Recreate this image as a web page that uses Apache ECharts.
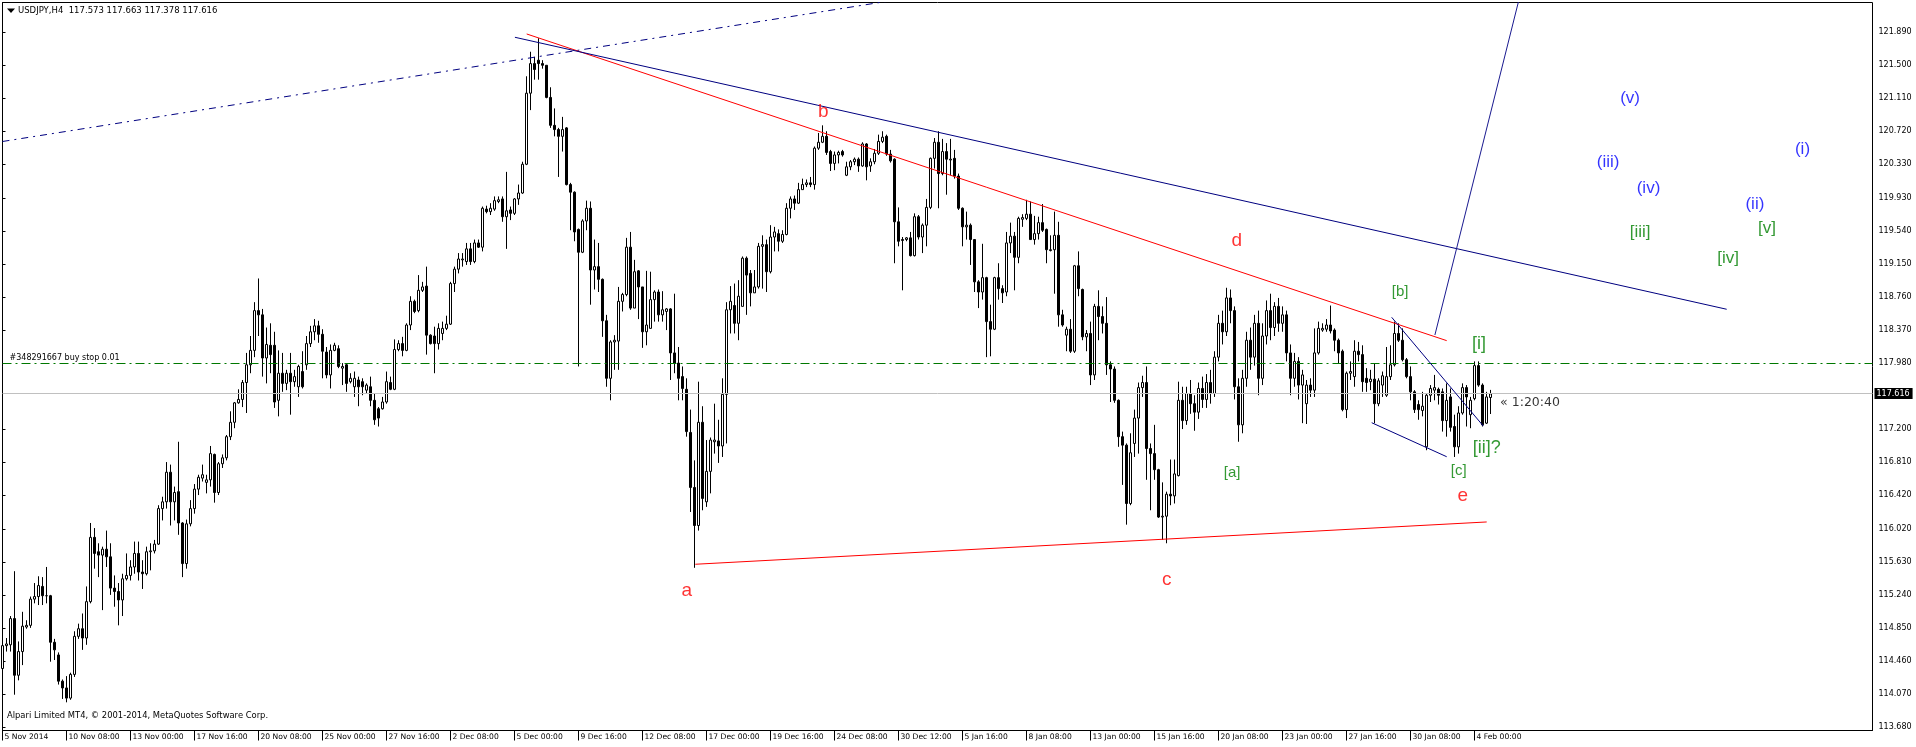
<!DOCTYPE html>
<html><head><meta charset="utf-8">
<script src="https://cdn.jsdelivr.net/npm/echarts@6/dist/echarts.min.js"></script>
<style>html,body{margin:0;padding:0;background:#fff;}#chart{width:1916px;height:747px;}</style>
</head><body><div id="chart"></div>
<script>
const symbolTitle = 'USDJPY,H4  117.573 117.663 117.378 117.616';
const copyrightText = 'Alpari Limited MT4, \u00a9 2001-2014, MetaQuotes Software Corp.';

const openPrices = [
114.37,114.64,114.65,114.96,114.29,114.57,114.86,114.88,115.19,115.22,
115.34,115.23,115.23,114.68,114.53,114.22,114.14,114.02,114.30,114.75,
114.84,114.73,115.16,115.92,115.75,115.71,115.78,115.69,115.32,115.28,
115.18,115.43,115.47,115.57,115.73,115.51,115.49,115.75,115.76,115.84,
116.26,116.34,116.69,116.34,116.46,116.09,115.61,116.08,116.26,116.49,
116.62,116.57,116.60,116.90,116.45,116.79,116.86,117.11,117.28,117.51,
117.55,117.75,117.96,118.13,118.60,118.55,118.04,118.19,118.19,117.54,
117.86,117.74,117.86,117.76,117.70,117.88,117.96,118.21,118.35,118.42,
118.32,118.11,117.84,118.13,118.15,117.92,117.96,117.76,117.70,117.78,
117.76,117.66,117.70,117.54,117.44,117.44,117.52,117.75,117.67,118.14,
118.21,118.13,118.43,118.71,118.60,118.84,118.89,118.31,118.30,118.21,
118.33,118.39,118.44,118.92,119.09,119.20,119.18,119.33,119.18,119.40,
119.35,119.80,119.77,119.80,119.89,119.92,119.71,119.79,119.75,119.92,
119.99,120.33,121.17,121.52,121.56,121.52,121.50,121.12,120.79,120.74,
120.66,120.76,120.09,120.00,119.56,119.29,119.66,119.81,119.08,119.12,
118.97,118.48,117.80,118.23,118.24,118.71,118.79,119.35,118.63,119.07,
118.88,118.35,118.39,118.73,118.82,118.55,118.59,118.62,118.10,117.98,
117.82,117.67,117.16,116.51,116.06,117.28,116.34,116.70,117.05,117.06,
117.00,117.61,118.61,118.66,118.45,118.65,119.22,119.04,118.81,118.88,
119.36,119.38,119.06,119.47,119.51,119.42,119.50,119.81,119.92,119.87,
120.03,120.09,120.11,120.09,120.52,120.59,120.66,120.48,120.34,120.44,
120.48,120.20,120.30,120.36,120.39,120.31,120.57,120.31,120.36,120.46,
120.60,120.66,120.45,120.39,119.65,119.44,119.44,119.46,119.25,119.71,
119.47,119.61,119.82,120.40,120.59,120.22,120.48,120.38,120.40,120.19,
119.81,119.59,119.61,119.44,118.94,118.82,118.99,118.47,118.38,118.99,
118.86,118.82,119.40,119.48,119.23,119.68,119.69,119.74,119.44,119.51,
119.64,119.56,119.31,119.32,119.49,118.55,118.31,118.38,118.12,119.13,
118.85,118.29,118.33,117.84,118.65,118.53,118.45,117.96,117.91,117.54,
117.11,117.01,116.32,117.03,117.33,117.69,117.75,116.97,116.91,116.72,
116.16,116.17,116.43,116.41,116.65,117.54,117.30,117.62,117.50,117.40,
117.68,117.55,117.75,117.62,118.05,118.45,118.35,118.75,118.60,117.70,
117.25,117.80,118.25,118.05,118.45,117.80,118.30,118.60,118.40,118.65,
118.45,118.55,118.10,117.80,118.00,117.72,117.50,117.72,117.66,118.10,
118.37,118.38,118.43,118.37,118.25,118.12,117.43,117.86,117.82,118.12,
118.08,117.80,117.76,117.79,117.50,117.72,117.60,117.82,117.96,118.33,
118.25,118.02,117.82,117.64,117.49,117.42,116.99,117.60,117.66,117.67,
117.64,117.30,117.58,117.23,116.99,117.39,117.69,117.37,117.56,117.95,
117.72,117.27,117.573
];
const closePrices = [
114.64,114.66,114.96,114.29,114.57,114.87,114.88,115.19,115.22,115.35,
115.23,115.23,114.68,114.59,114.22,114.14,114.02,114.30,114.75,114.84,
114.73,115.16,115.92,115.73,115.71,115.78,115.69,115.32,115.28,115.18,
115.43,115.47,115.57,115.73,115.51,115.49,115.75,115.76,115.84,116.26,
116.34,116.69,116.34,116.45,116.09,115.61,116.08,116.26,116.49,116.63,
116.66,116.60,116.91,116.45,116.79,116.86,117.11,117.28,117.51,117.55,
117.75,117.96,118.13,118.60,118.55,118.04,118.20,118.08,117.52,117.86,
117.74,117.86,117.76,117.82,117.94,117.70,118.21,118.35,118.42,118.32,
118.12,117.84,118.13,118.19,117.94,117.94,117.74,117.80,117.80,117.70,
117.70,117.72,117.54,117.31,117.33,117.52,117.76,117.67,118.14,118.21,
118.13,118.43,118.71,118.59,118.84,118.88,118.31,118.21,118.21,118.39,
118.39,118.44,118.92,119.09,119.21,119.21,119.33,119.18,119.40,119.35,
119.81,119.77,119.81,119.90,119.91,119.71,119.78,119.75,119.92,119.99,
120.33,121.17,121.52,121.45,121.52,121.50,121.12,120.79,120.74,120.66,
120.74,120.09,120.00,119.53,119.29,119.66,119.81,119.08,119.12,118.97,
118.48,117.80,118.23,118.25,118.71,118.79,119.35,118.63,119.06,118.88,
118.35,118.43,118.73,118.82,118.55,118.61,118.62,118.10,117.98,117.80,
117.68,117.17,116.51,116.06,117.28,116.38,116.70,117.07,117.07,117.00,
117.61,118.61,118.71,118.45,118.77,119.22,119.02,118.81,118.88,119.36,
119.38,119.06,119.47,119.53,119.42,119.50,119.81,119.92,119.87,120.03,
120.09,120.11,120.09,120.52,120.59,120.66,120.47,120.34,120.44,120.47,
120.44,120.30,120.36,120.39,120.31,120.57,120.30,120.36,120.46,120.60,
120.65,120.45,120.37,119.65,119.42,119.43,119.46,119.25,119.71,119.47,
119.61,119.82,120.40,120.59,120.22,120.48,120.39,120.39,120.19,119.81,
119.59,119.61,119.44,118.94,118.82,118.99,118.47,118.38,118.99,118.86,
118.81,119.40,119.48,119.23,119.69,119.70,119.74,119.44,119.51,119.64,
119.55,119.32,119.32,119.49,118.55,118.43,118.38,118.12,119.13,118.86,
118.29,118.33,117.84,118.65,118.53,118.45,117.96,117.91,117.54,117.11,
117.01,116.32,116.92,117.33,117.69,117.75,116.97,116.91,116.72,116.16,
116.17,116.43,116.41,116.67,117.54,117.30,117.62,117.50,117.40,117.68,
117.55,117.75,117.62,118.05,118.45,118.35,118.75,118.60,117.70,117.25,
117.80,118.25,118.05,118.45,117.80,118.30,118.60,118.40,118.65,118.45,
118.55,118.10,117.80,118.00,117.72,117.84,117.72,117.66,118.10,118.39,
118.39,118.43,118.36,118.25,118.10,117.43,117.86,117.88,118.12,118.08,
117.76,117.75,117.79,117.50,117.77,117.83,117.82,117.96,118.33,118.25,
118.02,117.82,117.64,117.43,117.43,117.47,117.60,117.68,117.69,117.60,
117.30,117.54,117.22,116.99,117.39,117.69,117.58,117.54,117.95,117.72,
117.25,117.58,117.616
];
const lowPrices = [
114.33,114.57,114.57,114.06,114.23,114.41,114.84,114.85,115.14,115.12,
115.12,115.14,114.45,114.47,114.18,114.01,113.97,114.00,114.27,114.72,
114.59,114.65,115.14,115.55,115.45,115.06,115.57,115.24,115.10,114.88,
114.99,115.41,115.41,115.49,115.41,115.31,115.47,115.53,115.73,115.83,
116.12,116.26,116.06,116.12,115.95,115.45,115.55,116.05,116.20,116.42,
116.58,116.44,116.52,116.33,116.42,116.74,116.83,117.07,117.21,117.50,
117.46,117.39,117.86,118.05,118.30,117.82,117.74,117.86,117.45,117.35,
117.64,117.66,117.37,117.70,117.58,117.68,117.90,118.17,118.25,118.22,
117.80,117.80,117.68,118.12,117.92,117.72,117.64,117.74,117.58,117.47,
117.60,117.62,117.47,117.25,117.23,117.43,117.50,117.66,117.66,118.12,
118.06,118.12,118.37,118.57,118.58,118.82,118.08,118.20,117.86,118.14,
118.25,118.37,118.43,118.82,119.04,119.12,119.14,119.14,119.16,119.34,
119.30,119.75,119.73,119.78,119.87,119.65,119.33,119.67,119.73,119.85,
119.98,120.32,120.97,121.33,121.33,121.46,121.11,120.76,120.66,120.18,
120.48,120.08,119.55,119.42,117.94,119.28,119.55,118.67,118.85,118.82,
118.29,117.70,117.54,117.90,117.90,118.59,118.77,118.61,118.63,118.50,
118.16,118.19,118.39,118.47,118.47,118.47,118.37,117.78,117.86,117.54,
117.54,117.11,116.22,115.56,116.00,116.24,116.28,116.44,116.91,116.80,
116.87,117.03,118.33,118.33,118.25,118.65,118.55,118.65,118.81,118.86,
118.86,118.82,119.04,119.30,119.30,119.40,119.49,119.69,119.79,119.86,
120.03,120.06,120.06,120.03,120.50,120.58,120.44,120.25,120.26,120.34,
120.42,120.19,120.26,120.32,120.24,120.30,120.14,120.24,120.33,120.44,
120.58,120.43,120.35,119.16,119.36,118.84,119.42,119.24,119.24,119.44,
119.28,119.36,119.80,120.28,119.81,120.20,119.97,120.20,120.16,119.79,
119.36,119.44,119.14,118.82,118.63,118.73,118.05,118.06,118.37,118.73,
118.69,118.77,119.28,118.84,119.16,119.59,119.67,119.44,119.38,119.44,
119.53,119.16,119.30,118.80,118.41,118.41,118.12,118.10,118.10,118.77,
118.25,118.12,117.72,117.78,118.25,118.33,117.84,117.52,117.51,116.99,
116.54,116.07,116.30,116.87,116.91,117.58,116.60,116.24,116.60,116.15,
115.89,115.85,116.30,116.32,116.64,117.20,117.25,117.38,117.18,117.32,
117.45,117.45,117.50,117.58,118.00,118.20,118.30,118.45,117.55,117.05,
117.15,117.70,117.90,117.95,117.60,117.72,118.20,118.25,118.30,118.35,
118.35,118.00,117.60,117.70,117.55,117.27,117.26,117.58,117.58,118.08,
118.35,118.35,118.33,118.12,117.98,117.41,117.33,117.78,117.70,118.00,
117.64,117.64,117.66,117.27,117.47,117.58,117.58,117.78,117.94,118.23,
118.00,117.80,117.54,117.39,117.31,117.35,116.95,117.52,117.54,117.49,
117.17,117.11,117.17,116.87,116.91,117.37,117.23,117.21,117.54,117.70,
117.23,117.26,117.378
];
const highPrices = [
114.83,114.73,114.99,115.52,114.69,115.04,114.94,115.22,115.38,115.46,
115.45,115.57,115.24,114.72,114.56,114.24,114.28,114.32,114.81,114.90,
115.02,115.34,116.09,116.03,115.85,115.81,116.00,115.85,115.47,115.38,
115.49,115.73,115.65,115.87,115.87,115.65,115.81,115.85,115.89,116.30,
116.40,116.81,116.78,116.52,117.05,116.10,116.13,116.36,116.55,116.66,
116.78,116.66,117.00,116.91,116.81,116.90,117.13,117.41,117.52,117.67,
117.78,118.10,118.30,118.70,118.98,118.62,118.40,118.45,118.35,118.13,
118.10,117.90,118.10,117.90,117.96,118.12,118.30,118.42,118.50,118.48,
118.38,118.17,118.20,118.22,118.19,117.98,117.98,117.86,117.88,117.82,
117.80,117.74,117.82,117.62,117.46,117.58,117.88,117.82,118.26,118.25,
118.29,118.45,118.77,118.73,119.02,118.94,119.12,118.32,118.41,118.45,
118.47,118.54,118.94,119.12,119.28,119.28,119.40,119.40,119.44,119.44,
119.83,119.84,119.87,119.95,119.95,119.95,120.24,119.83,119.93,120.09,
120.36,121.37,121.66,121.60,121.82,121.56,121.50,121.24,120.99,120.76,
120.89,120.77,120.11,120.01,119.57,119.68,119.90,119.89,119.44,119.40,
118.98,118.55,118.25,118.31,118.88,118.81,119.46,119.53,119.20,119.08,
118.88,119.07,119.06,118.84,118.85,118.83,118.63,118.63,118.80,118.17,
117.94,117.80,117.43,116.83,117.76,117.47,117.07,117.10,117.50,117.31,
117.80,118.70,118.89,118.92,118.96,119.24,119.24,119.08,119.08,119.40,
119.49,119.44,119.61,119.59,119.56,119.55,119.87,119.95,119.96,120.11,
120.16,120.15,120.18,120.54,120.70,120.79,120.72,120.50,120.48,120.49,
120.50,120.36,120.38,120.41,120.41,120.59,120.58,120.40,120.51,120.68,
120.72,120.68,120.50,120.40,119.82,119.47,119.47,119.53,119.75,119.73,
119.63,119.92,120.41,120.64,120.72,120.63,120.58,120.63,120.50,120.22,
119.82,119.77,119.63,119.44,118.96,119.39,119.00,118.67,119.00,119.16,
118.90,119.53,119.64,119.53,119.71,119.74,119.91,119.89,119.72,119.71,
119.86,119.57,119.49,119.77,119.65,118.61,118.41,118.50,119.14,119.30,
118.86,118.37,118.47,118.68,118.84,118.65,118.76,118.00,117.94,117.55,
117.17,117.03,117.15,117.43,117.75,117.83,117.94,117.03,117.25,116.73,
116.57,116.46,116.84,116.84,117.76,117.70,117.70,117.78,117.60,117.75,
117.82,117.85,117.90,118.12,118.55,118.60,118.87,118.85,118.65,117.80,
117.90,118.35,118.40,118.55,118.60,118.45,118.72,118.80,118.70,118.75,
118.65,118.60,118.20,118.10,118.05,117.90,117.78,117.80,118.39,118.47,
118.45,118.50,118.66,118.39,118.27,118.14,117.88,118.00,118.25,118.23,
118.19,117.92,117.90,117.98,117.80,117.88,118.17,118.19,118.47,118.45,
118.39,118.04,117.94,117.66,117.54,117.64,117.62,117.72,117.84,117.69,
117.68,117.74,117.68,117.37,117.47,117.74,117.72,117.58,118.00,118.00,
117.74,117.64,117.663
];

const timeTickBars = [0,16,32,48,64,80,96,112,128,144,160,176,192,208,224,240,256,272,288,304,320,336,352,368];
const timeTickLabels = ['5 Nov 2014','10 Nov 08:00','13 Nov 00:00','17 Nov 16:00','20 Nov 08:00','25 Nov 00:00','27 Nov 16:00','2 Dec 08:00','5 Dec 00:00','9 Dec 16:00','12 Dec 08:00','17 Dec 00:00','19 Dec 16:00','24 Dec 08:00','30 Dec 12:00','5 Jan 16:00','8 Jan 08:00','13 Jan 00:00','15 Jan 16:00','20 Jan 08:00','23 Jan 00:00','27 Jan 16:00','30 Jan 08:00','4 Feb 00:00'];
const priceTickValues = [121.89,121.5,121.11,120.72,120.33,119.93,119.54,119.15,118.76,118.37,117.98,117.2,116.81,116.42,116.02,115.63,115.24,114.85,114.46,114.07,113.68];

const currentPrice = 117.616;
const buyStopPrice = 117.98;
const buyStopText = '#348291667 buy stop 0.01';

const channelDashed = [[0, 120.599], [240, 122.397]];
const redUpperLine = [[131.05, 121.870], [361.05, 118.245]];
const navyUpperLine = [[128.1, 121.831], [431.05, 118.616]];
const redLowerLine = [[173.2, 115.602], [371.05, 116.102]];
const steepLine = [[358.1, 118.312], [379.1, 122.272]];
const wedgeUpperLine = [[347.3, 118.521], [370.2, 117.236]];
const wedgeLowerLine = [[342.3, 117.275], [361.05, 116.873]];

const waveLabelTexts = ['a','b','c','d','e','[a]','[b]','[c]','[i]','[ii]?','(i)','(ii)','(iii)','(iv)','(v)','[iii]','[iv]','[v]'];
const waveLabelBars = [171.05,205.2,291.05,308.6,365.05,307.4,349.4,364.05,369.1,371.05,450.0,438.1,401.4,411.5,406.9,409.4,431.4,441.1];
const waveLabelPrices = [115.289,120.951,115.416,119.423,116.409,116.681,118.820,116.708,118.202,116.980,120.511,119.861,120.350,120.050,121.113,119.530,119.222,119.570];

const timerText = '\u00ab 1:20:40';
const timerAnchor = [374.4, 117.508];

// ---------- build ----------
const FONT = 'DejaVu Sans';
const LABEL_FONT = 'Liberation Sans';
const candleData = openPrices.map((o, i) => [i, o, closePrices[i], lowPrices[i], highPrices[i]]);

function waveStyle(t) {
  if (/^[a-e]$/.test(t)) return {color: '#FF0000', size: 19};
  if (t.charAt(0) === '(') return {color: '#0000FF', size: 17};
  if (t === '[a]' || t === '[b]' || t === '[c]') return {color: '#008000', size: 15};
  if (t === '[i]' || t === '[ii]?') return {color: '#008000', size: 18};
  return {color: '#008000', size: 17};
}
const waveData = waveLabelTexts.map((t, i) => {
  const s = waveStyle(t);
  return {value: [waveLabelBars[i], waveLabelPrices[i]], name: t,
    label: {show: true, position: 'inside', formatter: t, color: s.color, fontSize: s.size, fontFamily: LABEL_FONT}};
});
waveData.push({value: timerAnchor, name: timerText,
  label: {show: true, position: 'inside', align: 'left', formatter: timerText, color: '#000', fontSize: 12.5, fontFamily: FONT}});

function lineSeries(data, color, type) {
  return {type: 'line', data: data, showSymbol: false, symbol: 'none', silent: true, z: 5,
    lineStyle: {color: color, width: 1, type: type || 'solid'}, animation: false};
}

const chart = echarts.init(document.getElementById('chart'), null, {renderer: 'canvas', width: 1916, height: 747});
chart.setOption({
  animation: false,
  backgroundColor: '#fff',
  title: [
    {text: symbolTitle, left: 18, top: 6, padding: 0, textStyle: {fontFamily: FONT, fontSize: 8.5, fontWeight: 'normal', color: '#000'}},
    {text: copyrightText, left: 7, top: 712, padding: 0, textStyle: {fontFamily: FONT, fontSize: 8.4, fontWeight: 'normal', color: '#000'}}
  ],
  graphic: [{type: 'polygon', shape: {points: [[7, 8.5], [15, 8.5], [11, 13]]}, style: {fill: '#000'}}],
  grid: {left: 2.5, right: 43.5, top: 2.5, bottom: 16.5, show: true, borderColor: '#000', borderWidth: 1, backgroundColor: '#fff'},
  xAxis: {
    type: 'value', min: 0, max: 467.5,
    splitLine: {show: false},
    axisLine: {show: true, onZero: false, lineStyle: {color: '#000', width: 1}},
    axisTick: {show: true, customValues: timeTickBars, length: 10, lineStyle: {color: '#000'}},
    axisLabel: {customValues: timeTickBars, align: 'left', margin: 3, padding: [0, 0, 0, 2],
      formatter: v => timeTickLabels[timeTickBars.indexOf(Math.round(v))] || '',
      fontFamily: FONT, fontSize: 7.6, color: '#000'}
  },
  yAxis: {
    type: 'value', position: 'right', min: 113.637, max: 122.242,
    splitLine: {show: false},
    axisLine: {show: true, lineStyle: {color: '#000', width: 1}},
    axisTick: {show: true, customValues: priceTickValues, length: 3, lineStyle: {color: '#000'}},
    axisLabel: {customValues: priceTickValues, margin: 6, formatter: v => v.toFixed(3), fontFamily: FONT, fontSize: 8, color: '#000'}
  },
  series: [
    {
      type: 'candlestick', data: candleData, encode: {x: 0, y: [1, 2, 3, 4]},
      barWidth: 2, z: 3,
      itemStyle: {color: '#fff', color0: '#000', borderColor: '#000', borderColor0: '#000', borderWidth: 1},
      markLine: {
        silent: true, symbol: ['none', 'none'], animation: false,
        data: [
          {yAxis: currentPrice, lineStyle: {color: '#C0C0C0', width: 1, type: 'solid'},
            label: {show: true, position: 'end', formatter: currentPrice.toFixed(3), backgroundColor: '#000', color: '#fff',
              padding: [2, 3, 1, 2], distance: 2, fontFamily: FONT, fontSize: 8}},
          {yAxis: buyStopPrice, lineStyle: {color: '#007800', width: 1, type: [9, 4, 2, 4]},
            label: {show: true, position: 'insideStartTop', formatter: buyStopText, color: '#000', distance: [7, 1],
              fontFamily: FONT, fontSize: 8}}
        ]
      }
    },
    lineSeries(channelDashed, '#000080', [7, 5, 2, 5]),
    lineSeries(redUpperLine, '#FF0000'),
    lineSeries(navyUpperLine, '#000080'),
    lineSeries(redLowerLine, '#FF0000'),
    lineSeries(steepLine, '#1a1a90'),
    lineSeries(wedgeUpperLine, '#000080'),
    lineSeries(wedgeLowerLine, '#000080'),
    {type: 'scatter', data: waveData, symbolSize: 0, silent: true, z: 6, animation: false}
  ]
});
</script>
</body></html>
